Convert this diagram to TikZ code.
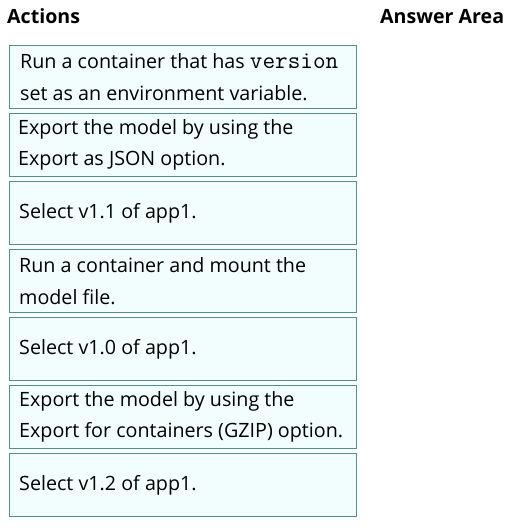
\documentclass[tikz,border=0pt]{standalone}
\usepackage{fontspec}
\setmainfont{Open Sans}
\definecolor{boxline}{HTML}{4F8F94}
\definecolor{boxfill}{HTML}{F2FDFD}
\tikzset{
  actbox/.style={draw=boxline, fill=boxfill, line width=1.2pt, minimum width=347pt, minimum height=63pt, anchor=north west, inner sep=0pt},
  acttext/.style={anchor=west, inner sep=0pt, align=left, font=\fontsize{19.7}{31.5}\selectfont},
  head/.style={anchor=base west, inner sep=0pt, font=\fontsize{19.6}{23}\selectfont\bfseries}
}
\begin{document}
\begin{tikzpicture}[x=1pt,y=-1pt]
\useasboundingbox (0,0) rectangle (512,528);
\node[head] (hact) at (7,23) {Actions};
\node[head] (hans) at (380,23) {Answer Area};
\foreach \i/\t in {0/45,1/113,2/181,3/249,4/317,5/385,6/453}{
  \node[actbox] (b\i) at (9,\t) {};
}
\node[acttext] (t0) at ([xshift=11pt]b0.west) {Run a container that has {\ttfamily\fontsize{24.5}{31.5}\selectfont version}\\set as an environment variable.};
\node[acttext] (t1) at ([xshift=9pt]b1.west) {Export the model by using the\\Export as JSON option.};
\node[acttext] (t2) at ([xshift=10pt]b2.west) {Select v1.1 of app1.};
\node[acttext] (t3) at ([xshift=10pt]b3.west) {Run a container and mount the\\model file.};
\node[acttext] (t4) at ([xshift=10pt]b4.west) {Select v1.0 of app1.};
\node[acttext] (t5) at ([xshift=10pt]b5.west) {Export the model by using the\\Export for containers (GZIP) option.};
\node[acttext] (t6) at ([xshift=10pt]b6.west) {Select v1.2 of app1.};
\end{tikzpicture}
\end{document}
